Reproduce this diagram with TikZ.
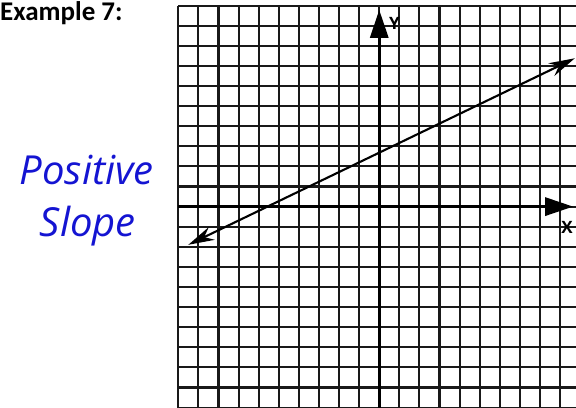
\documentclass[tikz,border=0pt]{standalone}
\usepackage{fontspec}
\newfontfamily\titlefont{Carlito}
\newfontfamily\handfont{Open Sans}
\usepackage{tikz}
\usetikzlibrary{positioning,arrows.meta}
\definecolor{inkblue}{RGB}{20,20,210}
\definecolor{gridgray}{RGB}{25,25,25}

\begin{document}
\begin{tikzpicture}[x=20.1pt, y=20.1pt,
  gridline/.style={draw=gridgray, line width=2.1pt},
  axis/.style={line width=3pt, -{Triangle[length=28pt, width=18pt]}},
  graphline/.style={line width=2.1pt, {Stealth[length=26pt, width=14pt]}-{Stealth[length=26pt, width=14pt]}},
  axlabel/.style={font=\handfont\bfseries\fontsize{17}{17}\selectfont, inner sep=0pt},
  hand/.style={font=\handfont\itshape\fontsize{40}{40}\selectfont, text=inkblue, anchor=base, inner sep=0pt}]
  \useasboundingbox (-18.87,-10.01) rectangle (9.79,10.28);
  \foreach \i in {-10,...,9}
    \draw[gridline] (\i,-10.01) -- (\i,10);
  \foreach \j in {-10,...,10}
    \draw[gridline] (-10,\j) -- (9.79,\j);
  \coordinate (ybot) at (0,-10.01);
  \coordinate (ytop) at (0,9.79);
  \coordinate (xleft) at (-10,0);
  \coordinate (xright) at (9.65,0);
  \coordinate (lstart) at (-9.5,-1.9);
  \coordinate (lend) at (9.73,7.38);
  \draw[axis] (ybot) -- (ytop);
  \draw[axis] (xleft) -- (xright);
  \draw[graphline] (lstart) -- (lend);
  \node[axlabel] (ylabel) at (0.75,9.1) {Y};
  \node[axlabel] (xlabel) at (9.35,-1.05) {X};
  \node[anchor=base west, inner sep=0pt, font=\titlefont\bfseries\fontsize{27}{27}\selectfont] (title) at (-18.87,9.26) {Example 7:};
  \node[hand] (posword) at (-14.55,1.08) {Positive};
  \node[hand] (slopeword) at (-14.5,-1.51) {Slope};
\end{tikzpicture}
\end{document}
